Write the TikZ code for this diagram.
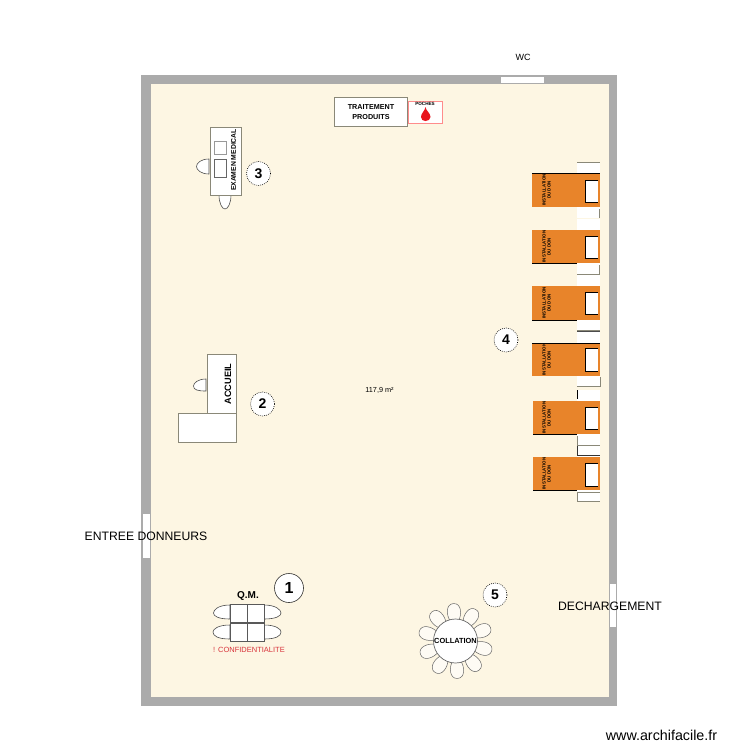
\documentclass[tikz,border=0pt]{standalone}
\usepackage{fontspec}
\setmainfont{Liberation Sans}
\definecolor{wallc}{HTML}{ABABAB}
\definecolor{floorc}{HTML}{FDF6E3}
\definecolor{bedc}{HTML}{E8842A}
\definecolor{edgec}{HTML}{8A8878}
\definecolor{bloodc}{HTML}{E8141C}
\definecolor{warnc}{HTML}{D8343C}
\tikzset{
  furn/.style={draw=edgec,fill=white,line width=.9pt},
  seat/.style={draw=black!70,fill=white,line width=.6pt},
  numc/.style={circle,draw=black,fill=white,line width=.6pt,dash pattern=on .8pt off 1.2pt,minimum size=24pt,inner sep=0pt,font=\fontsize{14}{14}\selectfont\bfseries},
  stub/.style={fill=white,draw=none},
  bedtxt/.style={rotate=90,align=center,font=\fontsize{4.4}{5}\selectfont\bfseries,inner sep=0pt},
  lab/.style={inner sep=0pt,font=\fontsize{12.2}{14}\selectfont},
}
\newcommand{\bedbox}[7]{%
  \fill[bedc] (#4,#2) rectangle (600,#3);
  \draw[black,line width=.9pt] (#4,#7) -- (600,#7);
  \fill[white] (586,#5) rectangle (598,#6);
  \draw[black,line width=.7pt] (598,#5) -- (585,#5) -- (585,#6) -- (598,#6);
  \node[bedtxt] (#1) at (546.5,{(#2+#3)/2}) {INSTALLATION\\DU DON};
}
\begin{document}
\begin{tikzpicture}[x=1pt,y=-1pt]
\useasboundingbox (0,0) rectangle (750,750);
\fill[white] (0,0) rectangle (750,750);
% walls and floor
\fill[wallc] (141,75) rectangle (617,706);
\fill[floorc] (151,84) rectangle (609,697);
\fill[white] (501,77) rectangle (544,83);
\fill[white] (143,514) rectangle (150,558);
\fill[white] (609.5,584) rectangle (616,627);
% top furniture
\node[draw=edgec,fill=white,line width=.9pt,minimum width=73pt,minimum height=29pt,inner sep=0pt,align=center,font=\fontsize{7.2}{9.5}\selectfont\bfseries] (traitement) at (371,112) {TRAITEMENT\\PRODUITS};
\draw[draw=red!45!white,fill=white,line width=.8pt] (408,101) rectangle (442,123);
\node[inner sep=0pt,font=\fontsize{4.6}{5}\selectfont\bfseries] (poches) at (425,104) {POCHES};
\fill[bloodc] (425.5,107) .. controls (425,111) and (421,113) .. (421,117) .. controls (421,119.5) and (423,121) .. (425.5,121) .. controls (428,121) and (430.5,119.5) .. (430.5,117) .. controls (430.5,113) and (426,111) .. (425.5,107) -- cycle;
% examen medical
\draw[seat] (209,159) .. controls (201,159) and (196.5,163) .. (196.5,166.5) .. controls (196.5,170) and (201,174) .. (209,174) -- cycle;
\draw[seat] (219,195) .. controls (219,203) and (222,209) .. (225,209) .. controls (228,209) and (231,203) .. (231,195) -- cycle;
\draw[furn] (210.5,127) rectangle (241.5,195);
\draw[draw=black!40,fill=white,line width=.6pt] (214.5,141) rectangle (226,154);
\draw[draw=black!60,fill=white,line width=.6pt] (214.5,159) rectangle (226.5,177.5);
\node[rotate=90,inner sep=0pt,font=\fontsize{6.8}{7}\selectfont\bfseries] (examen) at (233.5,160) {EXAMEN MEDICAL};
\node[numc] (n3) at (258.5,173.5) {3};
% accueil
\draw[seat] (206,379) .. controls (198,379) and (193.5,383) .. (193.5,386) .. controls (193.5,390) and (198,391) .. (206,391) -- cycle;
\draw[furn] (207.5,354.5) rectangle (236.5,413.5);
\draw[furn] (178.5,413.5) rectangle (236.5,442);
\node[rotate=90,inner sep=0pt,font=\fontsize{9.2}{10}\selectfont\bfseries] (accueil) at (228,384) {ACCUEIL};
\node[numc] (n2) at (262.5,404) {2};
% Q.M.
\draw[seat] (230,605) .. controls (218,605) and (213.5,610) .. (213.5,613) .. controls (213.5,616) and (218,619) .. (230,619) -- cycle;
\draw[seat] (230,625) .. controls (218,625) and (213,629) .. (213,632) .. controls (213,636) and (218,639) .. (230,639) -- cycle;
\draw[seat] (264,605) .. controls (276,605) and (281,610) .. (281,613) .. controls (281,616) and (276,619) .. (264,619) -- cycle;
\draw[seat] (264,625) .. controls (276,625) and (281,629) .. (281,632) .. controls (281,636) and (276,639) .. (264,639) -- cycle;
\draw[furn,draw=black!65] (230.5,604.5) rectangle (264,622.5);
\draw[furn,draw=black!65] (230.5,623.5) rectangle (264,641);
\draw[draw=black!65,line width=.7pt] (247.5,604.5) -- (247.5,641);
\node[inner sep=0pt,font=\fontsize{10}{11}\selectfont\bfseries] (qm) at (248,596) {Q.M.};
\node[inner sep=0pt,text=warnc,font=\fontsize{7.5}{8}\selectfont] (conf) at (249,650) {! CONFIDENTIALITE};
\node[numc,minimum size=29pt,draw opacity=.8,dash pattern=on 20pt off 0pt,font=\fontsize{16}{16}\selectfont\bfseries] (n1) at (289,588) {1};
% collation
\foreach \a in {21,57,...,345}{
  \begin{scope}[shift={(455.5,641)},rotate=\a]
    \draw[draw=black!60,fill=floorc!40!white,line width=.5pt] (20,-4) .. controls (26,-8) and (37.5,-8) .. (37.5,0) .. controls (37.5,8) and (26,8) .. (20,4) -- cycle;
  \end{scope}
}
\node[circle,draw=black!60,fill=white,line width=.7pt,minimum size=44pt,inner sep=0pt] (table) at (455.5,641) {};
\node[inner sep=0pt,font=\fontsize{7.4}{8}\selectfont\bfseries] (collation) at (455.5,641) {COLLATION};
\node[numc] (n5) at (495,595) {5};
% beds
\bedbox{b1}{173}{207}{532}{180}{202}{173}
\bedbox{b2}{230}{263}{532}{236}{258}{263}
\bedbox{b3}{286}{320}{532}{292}{314}{320}
\bedbox{b4}{343}{376}{532}{348}{371}{343}
\bedbox{b5}{401}{434}{533}{407}{429}{434}
\bedbox{b6}{457}{490}{533}{463}{486}{490}
% stools
\fill[stub] (577,162) rectangle (600,173);
\draw[edgec,line width=.6pt] (577,162.5) -- (600,162.5);
\fill[stub] (577,207) rectangle (600,218);
\draw[edgec,line width=.6pt] (599.5,209) -- (599.5,218);
\fill[stub] (577,219) rectangle (600,230);
\fill[stub] (577,263) rectangle (600,274);
\draw[edgec,line width=.6pt] (599.5,265) -- (599.5,274);
\fill[stub] (577,274.5) rectangle (600,286);
\draw[edgec,line width=.6pt] (577,274.5) -- (600,274.5);
\fill[stub] (577,320) rectangle (600,331);
\draw[edgec,line width=.6pt] (577,330.5) -- (600,330.5);
\fill[stub] (577,331) rectangle (600,343);
\draw[black!70,line width=.6pt] (577,331) -- (600,331);
\fill[stub] (577,376) rectangle (600,387);
\draw[edgec,line width=.6pt] (577,386.5) -- (600,386.5) -- (600,377);
\fill[stub] (577,390) rectangle (600,401);
\draw[black,line width=.6pt] (577.5,390) -- (577.5,399);
\fill[stub] (577,434) rectangle (600,445);
\draw[edgec,line width=.6pt] (577.5,436) -- (577.5,445.5) -- (600,445.5);
\fill[stub] (577,446) rectangle (600,457);
\draw[black!80,line width=.6pt] (577.5,446) -- (577.5,455.5) -- (600,455.5);
\fill[stub] (577,490) rectangle (600,501);
\draw[edgec,line width=.6pt] (600,492.5) -- (577.5,492.5) -- (577.5,501) -- (600,501);
\node[numc] (n4) at (506,340) {4};
% labels
\node[inner sep=0pt,font=\fontsize{7.3}{8}\selectfont] (area) at (379.5,390.5) {117,9 m²};
\node[lab,font=\fontsize{9}{10}\selectfont] (wc) at (523,57) {WC};
\node[lab] (entree) at (146,536) {ENTREE DONNEURS};
\node[lab] (dech) at (610,606) {DECHARGEMENT};
\node[inner sep=0pt,font=\fontsize{14.3}{16}\selectfont] (site) at (661.5,735.5) {www.archifacile.fr};
\end{tikzpicture}
\end{document}
